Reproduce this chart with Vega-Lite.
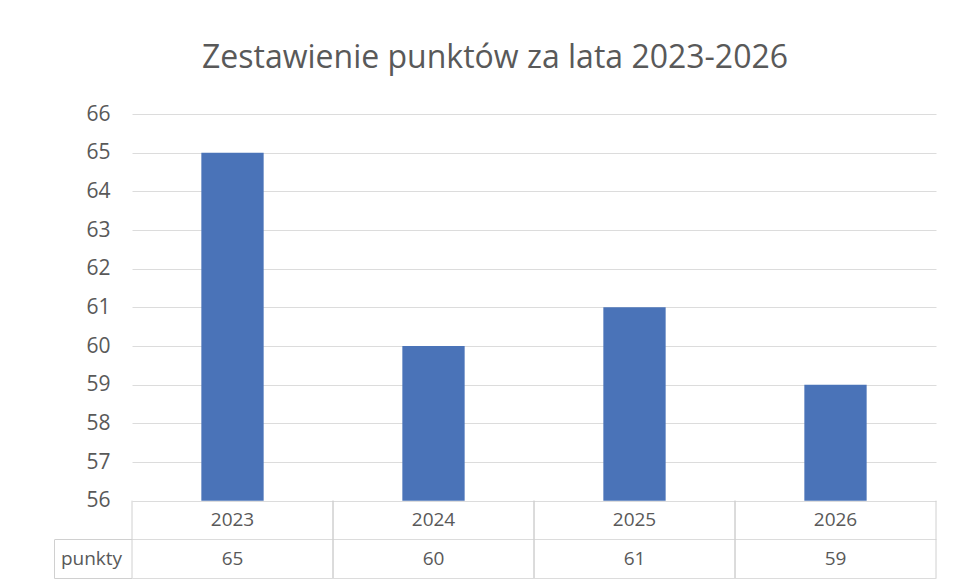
{
  "$schema": "https://vega.github.io/schema/vega-lite/v6.json",
  "width": 804,
  "height": 464,
  "padding": {"left": 53, "top": 42, "right": 18, "bottom": 5},
  "autosize": {"type": "pad"},
  "title": {
    "text": "Zestawienie punktów za lata 2023-2026",
    "font": "Open Sans",
    "fontSize": 32,
    "fontWeight": "normal",
    "color": "#595959",
    "anchor": "middle",
    "frame": "bounds",
    "offset": 28
  },
  "config": {
    "view": {"stroke": null},
    "font": "Open Sans",
    "text": {"font": "Open Sans", "fontSize": 19, "color": "#595959"}
  },
  "data": {
    "values": [
      {"rok": "2023", "punkty": 65},
      {"rok": "2024", "punkty": 60},
      {"rok": "2025", "punkty": 61},
      {"rok": "2026", "punkty": 59}
    ]
  },
  "layer": [
    {
      "mark": {"type": "bar", "width": {"band": 0.31}, "color": "#4a73b8"},
      "encoding": {
        "x": {"field": "rok", "type": "nominal", "scale": {"paddingInner": 0, "paddingOuter": 0}, "axis": null},
        "y": {
          "field": "punkty",
          "type": "quantitative",
          "scale": {"domain": [54, 66], "nice": false, "zero": false},
          "axis": {
            "title": null,
            "values": [54, 55, 56, 57, 58, 59, 60, 61, 62, 63, 64, 65, 66],
            "labelExpr": "datum.value >= 56 ? datum.label : ''",
            "grid": true,
            "gridColor": "#dcdcdc",
            "ticks": false,
            "domain": false,
            "labelPadding": 22,
            "labelFontSize": 21,
            "labelColor": "#595959",
            "labelFont": "Open Sans"
          }
        },
        "y2": {"datum": 56}
      }
    },
    {
      "mark": {"type": "rule", "color": "#d0d0d0"},
      "encoding": {
        "x": {"field": "rok", "type": "nominal", "bandPosition": 0},
        "y": {"datum": 54, "type": "quantitative", "axis": null},
        "y2": {"datum": 56}
      }
    },
    {
      "mark": {"type": "rule", "color": "#d0d0d0"},
      "encoding": {
        "x": {"field": "rok", "type": "nominal", "bandPosition": 1},
        "y": {"datum": 54, "type": "quantitative", "axis": null},
        "y2": {"datum": 56}
      }
    },
    {
      "mark": {"type": "text"},
      "encoding": {
        "x": {"field": "rok", "type": "nominal"},
        "y": {"datum": 55.5, "type": "quantitative", "axis": null},
        "text": {"field": "rok"}
      }
    },
    {
      "mark": {"type": "text"},
      "encoding": {
        "x": {"field": "rok", "type": "nominal"},
        "y": {
          "datum": 54.5,
          "type": "quantitative",
          "axis": {
            "orient": "left",
            "offset": 78,
            "title": null,
            "values": [54, 54.5, 55],
            "labelExpr": "datum.value == 54.5 ? 'punkty' : ''",
            "labelAlign": "center",
            "labelPadding": 41,
            "labelFontSize": 19,
            "labelColor": "#595959",
            "labelFont": "Open Sans",
            "ticks": true,
            "tickSize": -78,
            "tickColor": {"condition": {"test": "datum.value == 54.5", "value": "transparent"}, "value": "#d0d0d0"},
            "grid": false,
            "domain": true,
            "domainColor": "#d0d0d0",
            "domainDash": [38.7, 2000]
          }
        },
        "text": {"field": "punkty"}
      }
    }
  ],
  "resolve": {"axis": {"y": "independent"}}
}
